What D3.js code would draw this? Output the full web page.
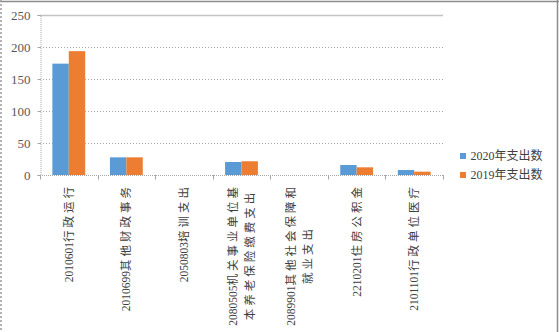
<!DOCTYPE html>
<html>
<head>
<meta charset="utf-8">
<script src="https://cdn.jsdelivr.net/npm/d3@7"></script>
<style>
  html, body { margin: 0; padding: 0; background: #fff; }
  svg { display: block; }
  text { font-family: "Liberation Serif", "DejaVu Serif", "Noto Sans CJK SC", serif; }
</style>
</head>
<body>
<svg id="chart" width="559" height="332"></svg>
<script>
// Expenditure items (line breaks mark where the axis label wraps)
const categories = [
  "2010601行政运行",
  "2010699其他财政事务",
  "2050803培训支出",
  "2080505机关事业单位基\n本养老保险缴费支出",
  "2089901其他社会保障和\n就业支出",
  "2210201住房公积金",
  "2101101行政单位医疗"
];
const series2020 = [174, 27.6, 0, 20.3, 0, 15.6, 7.8];
const series2019 = [193.5, 27.6, 0, 21.5, 0, 12, 5.2];
const seriesNames = ["2020年支出数", "2019年支出数"];
const seriesColors = ["#5B9BD5", "#ED7D31"];
const yTicks = [0, 50, 100, 150, 200, 250];

const svg = d3.select("#chart");
const W = 559, H = 332;
const plot = { left: 40, right: 443, top: 15, bottom: 175 };

// Outer chart frame
svg.append("line").attr("x1", 0).attr("x2", W).attr("y1", 1.5).attr("y2", 1.5)
  .attr("stroke", "#8c8c8c").attr("stroke-width", 1.5);
svg.append("line").attr("x1", 557.5).attr("x2", 557.5).attr("y1", 0).attr("y2", H)
  .attr("stroke", "#8c8c8c").attr("stroke-width", 1.5);
svg.append("line").attr("x1", 1).attr("x2", 1).attr("y1", 0).attr("y2", H)
  .attr("stroke", "#9a9a9a").attr("stroke-width", 1.5).attr("stroke-dasharray", "2,2");

const x = d3.scaleBand().domain(d3.range(categories.length))
  .range([plot.left, plot.right]).paddingInner(0.43).paddingOuter(0.215);
const xGroup = d3.scaleBand().domain([0, 1]).range([0, x.bandwidth()]);
const y = d3.scaleLinear().domain([0, 250]).range([plot.bottom, plot.top]);

// Horizontal gridlines
const grid = svg.append("g");
grid.selectAll("line").data(yTicks.filter(t => t > 0)).join("line")
  .attr("x1", plot.left).attr("x2", plot.right)
  .attr("y1", d => Math.round(y(d)) + 0.5).attr("y2", d => Math.round(y(d)) + 0.5)
  .attr("stroke", d => d === 250 ? "#c4c4c4" : "#a6a6a6")
  .attr("stroke-width", d => d === 250 ? 1.5 : 1)
  .attr("stroke-dasharray", d => d === 250 ? null : "1,2");

// Y axis
const yAxis = svg.append("g").attr("transform", `translate(${plot.left + 0.5},0)`)
  .call(d3.axisLeft(y).tickValues(yTicks).tickSize(3).tickPadding(7));
yAxis.attr("font-family", null);
yAxis.select(".domain").attr("stroke", "#a6a6a6").attr("stroke-dasharray", "1,1");
yAxis.selectAll(".tick line").attr("stroke", "#a6a6a6");
yAxis.selectAll("text").attr("font-size", 13).attr("fill", "#595959");

// Bars
const data = categories.map((c, i) => [series2020[i], series2019[i]]);
const groups = svg.append("g").selectAll("g").data(data).join("g")
  .attr("transform", (d, i) => `translate(${x(i)},0)`);
groups.selectAll("rect").data(d => d).join("rect")
  .attr("x", (d, j) => xGroup(j))
  .attr("width", xGroup.bandwidth())
  .attr("y", d => y(d))
  .attr("height", d => y(0) - y(d))
  .attr("fill", (d, j) => seriesColors[j]);

// X axis baseline with ticks at category boundaries
const step = (plot.right - plot.left) / categories.length;
const xb = svg.append("g");
xb.append("line").attr("x1", plot.left).attr("x2", plot.right)
  .attr("y1", plot.bottom + 0.5).attr("y2", plot.bottom + 0.5)
  .attr("stroke", "#a6a6a6").attr("stroke-dasharray", "1,1");
xb.selectAll("line.tk").data(d3.range(categories.length + 1)).join("line")
  .attr("class", "tk")
  .attr("x1", i => Math.round(plot.left + i * step) + 0.5)
  .attr("x2", i => Math.round(plot.left + i * step) + 0.5)
  .attr("y1", plot.bottom).attr("y2", plot.bottom + 4.5)
  .attr("stroke", "#a6a6a6");

// Rotated category labels; wrapped lines are centred on each other,
// with the longest line ending just below the axis
const lineGap = 17;
categories.forEach((label, i) => {
  const lines = label.split("\n");
  const cx = x(i) + x.bandwidth() / 2;
  const g = svg.append("g").attr("transform", `translate(${cx},184) rotate(-90)`);
  const texts = lines.map((ln, k) => {
    const off = (k - (lines.length - 1) / 2) * lineGap;
    const t = g.append("text").attr("y", off).attr("dy", "0.36em")
      .attr("text-anchor", "middle").attr("font-size", 11.5).attr("fill", "#404040");
    ln.split(/(\d+)/).filter(s => s.length).forEach(part => {
      const isNum = /^\d+$/.test(part);
      t.append("tspan").text(part)
        .attr("letter-spacing", isNum ? null : "3px");
    });
    return t;
  });
  const maxLen = d3.max(texts, t => t.node().getComputedTextLength());
  texts.forEach(t => t.attr("x", -maxLen / 2));
});

// Legend
const legend = svg.append("g").attr("transform", "translate(460,153)");
seriesNames.forEach((name, j) => {
  const row = legend.append("g").attr("transform", `translate(0,${j * 19})`);
  row.append("rect").attr("x", 0).attr("y", 0).attr("width", 6).attr("height", 6)
    .attr("fill", seriesColors[j]);
  row.append("text").attr("x", 10.5).attr("y", 3).attr("dy", "0.36em")
    .attr("font-size", 12).attr("fill", "#404040").text(name);
});
</script>
</body>
</html>
